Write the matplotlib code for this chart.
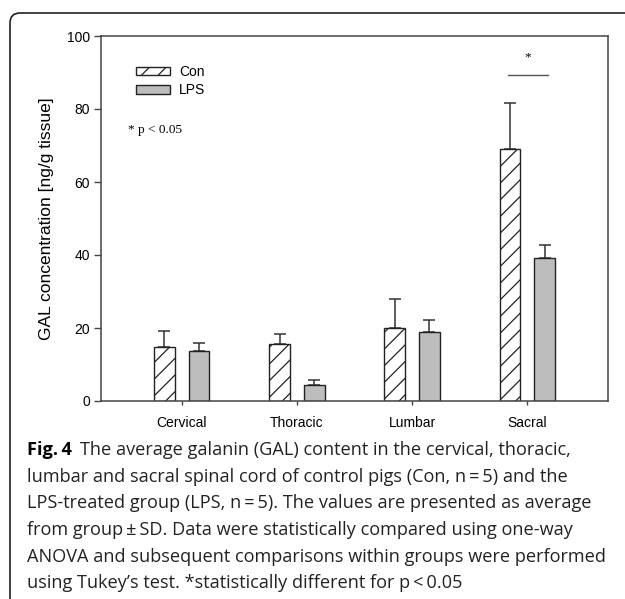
import numpy as np
import matplotlib
matplotlib.use('Agg')
import matplotlib.pyplot as plt
from matplotlib.patches import Patch, FancyBboxPatch
from matplotlib.transforms import IdentityTransform

# values
categories = ['Cervical', 'Thoracic', 'Lumbar', 'Sacral']
con_mean = [14.8, 15.5, 20.0, 69.0]
con_sd = [4.3, 2.9, 7.9, 12.6]
lps_mean = [13.7, 4.5, 18.8, 39.1]
lps_sd = [2.3, 1.2, 3.4, 3.7]
sig_level = 89.4

caption_lines = [
    'The average galanin (GAL) content in the cervical, thoracic,',
    'lumbar and sacral spinal cord of control pigs (Con, n\u2009=\u20095) and the',
    'LPS-treated group (LPS, n\u2009=\u20095). The values are presented as average',
    'from group\u2009\u00b1\u2009SD. Data were statistically compared using one-way',
    'ANOVA and subsequent comparisons within groups were performed',
    'using Tukey\u2019s test. *statistically different for p\u2009<\u20090.05',
]

W, H = 625, 599
fig = plt.figure(figsize=(W / 100, H / 100), dpi=100)
plt.rcParams['hatch.linewidth'] = 0.9
plt.rcParams['font.family'] = ['Liberation Sans', 'DejaVu Sans']

ax = fig.add_axes([101 / W, 1 - 401 / H, 507 / W, 365 / H])

x = np.arange(len(categories))
off, bw = 0.15, 0.18
ax.bar(x - off, con_mean, bw, facecolor='white', edgecolor='#222222', hatch='//', lw=1.0, label='Con', zorder=2)
ax.bar(x + off, lps_mean, bw, facecolor='#bdbdbd', edgecolor='#222222', lw=1.0, label='LPS', zorder=2)
ax.errorbar(x - off, con_mean, yerr=[np.zeros(len(x)), con_sd], fmt='none', ecolor='#333333',
            elinewidth=1.1, capsize=4.3, capthick=1.1, zorder=1)
ax.errorbar(x + off, lps_mean, yerr=[np.zeros(len(x)), lps_sd], fmt='none', ecolor='#333333',
            elinewidth=1.1, capsize=4.3, capthick=1.1, zorder=1)

# significance bar over sacral
ax.plot([3 - 0.17, 3 + 0.18], [sig_level, sig_level], color='#555555', lw=1)
ax.text(3, sig_level + 3.0, '*', ha='center', va='bottom', fontsize=9.5, family='Liberation Serif')

ax.set_xlim(-0.7, 3.7)
ax.set_ylim(0, 100)
ax.set_yticks([0, 20, 40, 60, 80, 100])
ax.set_xticks(x)
ax.set_xticklabels(categories)
ax.tick_params(axis='y', length=5, width=1, color='#444444', labelsize=10, pad=3)
ax.tick_params(axis='x', length=3, width=1, color='#444444', labelsize=10, pad=8)
for s in ax.spines.values():
    s.set_color('#444444')
    s.set_linewidth(1.1)
ax.set_ylabel('GAL concentration [ng/g tissue]', fontsize=12.5, labelpad=9)

handles = [Patch(facecolor='white', edgecolor='#222222', hatch='//', label='Con'),
           Patch(facecolor='#bdbdbd', edgecolor='#222222', label='LPS')]
ax.legend(handles=handles, loc='upper left', bbox_to_anchor=(0.045, 0.955), frameon=False,
          fontsize=10, handlelength=2.4, handleheight=0.6, labelspacing=0.3, handletextpad=0.7)
ax.text(0.053, 0.742, '* p < 0.05', transform=ax.transAxes, fontsize=9.5, va='center',
        family='Liberation Serif')

# rounded frame (left + top only visible)
frame = FancyBboxPatch((10, -60), 800, H - 13 + 60, boxstyle='round,pad=0,rounding_size=10',
                       transform=IdentityTransform(), fill=False, edgecolor='#222222', lw=1.2)
fig.patches.append(frame)

# caption
cap_font = ['Open Sans', 'DejaVu Sans']
cap_size = 12.5
renderer = fig.canvas.get_renderer()
probe = fig.text(0, 0, caption_lines[4], fontsize=cap_size, family=cap_font)
wpx = probe.get_window_extent(renderer).width
probe.remove()
cap_size = cap_size * 583 / wpx

baselines = [455, 482, 508, 535, 562, 588]
x0 = 27
t = fig.text(x0 / W, 1 - baselines[0] / H, 'Fig.\u20094', fontsize=cap_size, fontweight='bold',
             family=cap_font, va='baseline')
bw_px = t.get_window_extent(renderer).width
fig.text((x0 + bw_px + 8) / W, 1 - baselines[0] / H, caption_lines[0], fontsize=cap_size,
         family=cap_font, va='baseline', color='#222222')
for line, b in zip(caption_lines[1:], baselines[1:]):
    fig.text(x0 / W, 1 - b / H, line, fontsize=cap_size, family=cap_font, va='baseline', color='#222222')

fig.savefig('out.png', dpi=100)
